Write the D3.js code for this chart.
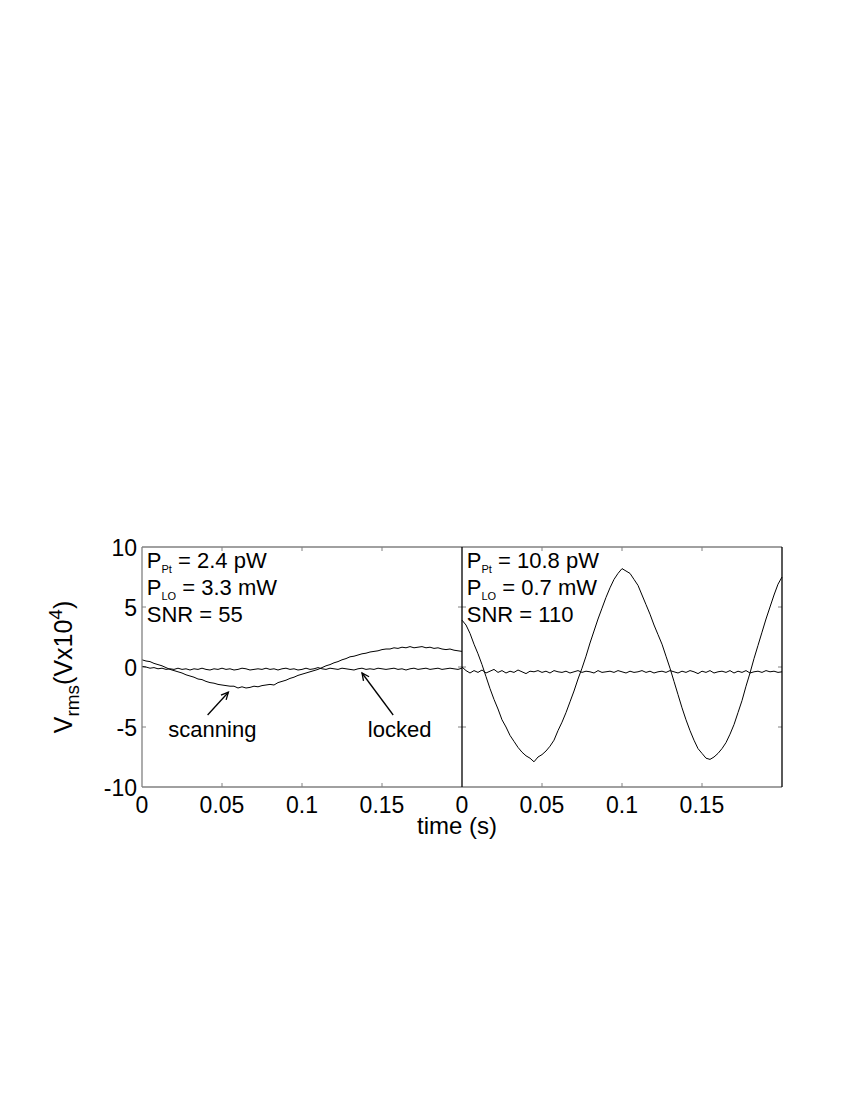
<!DOCTYPE html>
<html><head><meta charset="utf-8">
<script src="https://cdn.jsdelivr.net/npm/d3@7"></script>
<style>body{margin:0;background:#fff}svg{display:block}text{font-family:"Liberation Sans",Arial,sans-serif;fill:#000}</style>
</head><body>
<svg id="c" width="850" height="1100"></svg>
<script>
// ---- data ----
const timeDomain = [0, 0.2];
const vDomain = [-10, 10];
const nSamples = 81;
const scanLeft = [
 0.6,0.5,0.45,0.3,0.2,0.1,-0.05,-0.2,-0.3,-0.4,
 -0.5,-0.65,-0.75,-0.85,-1.0,-1.05,-1.2,-1.3,-1.35,-1.45,
 -1.5,-1.55,-1.6,-1.6,-1.75,-1.65,-1.75,-1.7,-1.6,-1.65,
 -1.55,-1.5,-1.45,-1.5,-1.3,-1.2,-1.1,-0.95,-0.85,-0.7,
 -0.6,-0.5,-0.4,-0.3,-0.2,-0.05,0.1,0.2,0.35,0.45,
 0.6,0.7,0.85,0.9,1.0,1.1,1.15,1.25,1.3,1.35,
 1.45,1.5,1.5,1.6,1.55,1.65,1.6,1.7,1.6,1.65,
 1.7,1.6,1.65,1.55,1.6,1.5,1.45,1.5,1.4,1.35,
 1.3];
const lockedLeft = [
 0.05,0.0,-0.1,-0.05,-0.15,-0.1,-0.2,-0.15,-0.2,-0.1,
 -0.2,-0.15,-0.25,-0.15,-0.2,-0.1,-0.2,-0.25,-0.15,-0.2,
 -0.1,-0.2,-0.15,-0.25,-0.2,-0.1,-0.15,-0.25,-0.2,-0.15,
 -0.2,-0.1,-0.2,-0.15,-0.25,-0.15,-0.1,-0.2,-0.15,-0.25,
 -0.2,-0.1,-0.2,-0.15,-0.05,-0.15,-0.2,-0.1,-0.15,-0.2,
 -0.1,-0.15,-0.2,-0.25,-0.15,-0.1,-0.2,-0.15,-0.2,-0.1,
 -0.15,-0.2,-0.15,-0.1,-0.2,-0.15,-0.25,-0.15,-0.1,-0.2,
 -0.15,-0.1,-0.2,-0.15,-0.1,-0.2,-0.15,-0.1,-0.15,-0.2,
 -0.1];
const scanRight = [
 3.9,3.5,2.8,1.9,1.1,0.2,-0.8,-1.8,-2.7,-3.5,
 -4.4,-5.0,-5.7,-6.2,-6.7,-7.1,-7.4,-7.6,-7.9,-7.5,
 -7.3,-7.0,-6.6,-6.1,-5.3,-4.6,-3.8,-2.9,-2.0,-1.0,
 -0.1,0.9,2.0,3.0,4.0,4.9,5.8,6.6,7.3,7.8,
 8.2,8.0,7.8,7.3,6.8,6.0,5.2,4.4,3.5,2.7,
 1.9,0.9,-0.1,-1.2,-2.3,-3.4,-4.4,-5.3,-6.1,-6.8,
 -7.2,-7.6,-7.7,-7.5,-7.2,-6.8,-6.3,-5.6,-4.8,-3.8,
 -2.8,-1.6,-0.5,0.7,1.8,2.9,4.0,5.0,6.0,6.9,
 7.5];
const lockedRight = [
 0.0,-0.3,-0.5,-0.3,-0.45,-0.25,-0.5,-0.35,-0.2,-0.45,
 -0.3,-0.5,-0.35,-0.45,-0.25,-0.4,-0.55,-0.35,-0.4,-0.3,
 -0.45,-0.35,-0.5,-0.3,-0.4,-0.45,-0.35,-0.5,-0.4,-0.3,
 -0.45,-0.35,-0.4,-0.5,-0.3,-0.45,-0.4,-0.35,-0.45,-0.3,
 -0.4,-0.5,-0.35,-0.45,-0.4,-0.3,-0.45,-0.35,-0.5,-0.4,
 -0.35,-0.45,-0.3,-0.4,-0.5,-0.35,-0.45,-0.3,-0.4,-0.55,
 -0.35,-0.45,-0.3,-0.5,-0.4,-0.35,-0.45,-0.3,-0.5,-0.35,
 -0.45,-0.3,-0.5,-0.4,-0.35,-0.45,-0.3,-0.4,-0.35,-0.45,
 -0.4];
const xTicks = [0.05, 0.1, 0.15];
const xTickLabels = ["0", "0.05", "0.1", "0.15"];
const xLabelValues = [0, 0.05, 0.1, 0.15];
const yTicks = [-10, -5, 0, 5, 10];
const yInnerTicks = [-5, 0, 5];
const leftNotes = [["P","Pt"," = 2.4 pW"],["P","LO"," = 3.3 mW"],["SNR = 55","",""]];
const rightNotes = [["P","Pt"," = 10.8 pW"],["P","LO"," = 0.7 mW"],["SNR = 110","",""]];
const noteY = [8.25, 6.0, 3.75];

// ---- layout ----
const svg = d3.select("#c");
const y = d3.scaleLinear().domain(vDomain).range([787, 547]);
const xL = d3.scaleLinear().domain(timeDomain).range([142, 462]);
const xR = d3.scaleLinear().domain(timeDomain).range([462, 782]);
const times = d3.range(nSamples).map(i => timeDomain[0] + (timeDomain[1]-timeDomain[0]) * i / (nSamples-1));
const grey = "#808080";

function panel(x, scan, locked, notes) {
  const g = svg.append("g");
  const [x0, x1] = x.range();
  const [yb, yt] = y.range();
  g.append("line").attr("x1", x0).attr("x2", x1).attr("y1", yt).attr("y2", yt).attr("stroke", grey).attr("stroke-width", 1.3);
  g.append("line").attr("x1", x0).attr("x2", x1).attr("y1", yb).attr("y2", yb).attr("stroke", grey).attr("stroke-width", 1.3);
  xTicks.forEach(t => {
    g.append("line").attr("x1", x(t)).attr("x2", x(t)).attr("y1", yt).attr("y2", yt+4).attr("stroke", grey);
    g.append("line").attr("x1", x(t)).attr("x2", x(t)).attr("y1", yb).attr("y2", yb-4).attr("stroke", grey);
  });
  yInnerTicks.forEach(v => {
    g.append("line").attr("x1", x1).attr("x2", x1-4).attr("y1", y(v)).attr("y2", y(v)).attr("stroke", grey);
    g.append("line").attr("x1", x0).attr("x2", x0+4).attr("y1", y(v)).attr("y2", y(v)).attr("stroke", grey);
  });
  xLabelValues.forEach((t, i) => {
    g.append("text").attr("x", x(t)).attr("y", 813).attr("text-anchor", "middle").attr("font-size", 23).text(xTickLabels[i]);
  });
  const line = d3.line().x((d, i) => x(times[i])).y(d => y(d));
  g.append("path").datum(scan).attr("d", line).attr("fill", "none").attr("stroke", "#000").attr("stroke-width", 1);
  g.append("path").datum(locked).attr("d", line).attr("fill", "none").attr("stroke", "#000").attr("stroke-width", 1);
  notes.forEach((n, i) => {
    const t = g.append("text").attr("x", x(0.003)).attr("y", y(noteY[i])).attr("font-size", 22);
    t.append("tspan").text(n[0]);
    if (n[1]) {
      t.append("tspan").attr("font-size", 11).attr("dy", 5).text(n[1]);
      t.append("tspan").attr("dy", -5).text(n[2]);
    }
  });
  return g;
}

panel(xL, scanLeft, lockedLeft, leftNotes);
panel(xR, scanRight, lockedRight, rightNotes);

svg.append("line").attr("x1", xL(0)).attr("x2", xL(0)).attr("y1", y(-10)).attr("y2", y(10)).attr("stroke", grey).attr("stroke-width", 1.3);
[xL(0.2), xR(0.2)].forEach(px => {
  svg.append("line").attr("x1", px).attr("x2", px).attr("y1", y(-10)).attr("y2", y(10)).attr("stroke", "#000").attr("stroke-width", 1.3);
});

yTicks.forEach(v => {
  svg.append("text").attr("x", 137).attr("y", y(v) + 9).attr("text-anchor", "end").attr("font-size", 23).text(v);
});

svg.append("text").attr("x", 457).attr("y", 834).attr("text-anchor", "middle").attr("font-size", 24).text("time (s)");
const yl = svg.append("text").attr("transform", `translate(72,${y(0)}) rotate(-90)`).attr("text-anchor", "middle").attr("font-size", 25);
yl.append("tspan").text("V");
yl.append("tspan").attr("font-size", 19).attr("dy", 7).text("rms");
yl.append("tspan").attr("dy", -7).text("(Vx10");
yl.append("tspan").attr("font-size", 19).attr("dy", -10).text("4");
yl.append("tspan").attr("dy", 10).text(")");

const annotations = [
  {label: "scanning", tx: 0.044, tv: -5.8, from: [0.041, -4.0], to: [0.054, -2.1]},
  {label: "locked", tx: 0.161, tv: -5.8, from: [0.157, -4.0], to: [0.1375, -0.5]}
];
annotations.forEach(a => {
  svg.append("text").attr("x", xL(a.tx)).attr("y", y(a.tv)).attr("text-anchor", "middle").attr("font-size", 22).text(a.label);
  const x1 = xL(a.from[0]), y1 = y(a.from[1]), x2 = xL(a.to[0]), y2 = y(a.to[1]);
  svg.append("line").attr("x1", x1).attr("y1", y1).attr("x2", x2).attr("y2", y2).attr("stroke", "#000").attr("stroke-width", 1.3);
  const ang = Math.atan2(y2 - y1, x2 - x1), L = 8, w = 0.45;
  const p1 = [x2 - L*Math.cos(ang - w), y2 - L*Math.sin(ang - w)];
  const p2 = [x2 - L*Math.cos(ang + w), y2 - L*Math.sin(ang + w)];
  svg.append("path").attr("d", `M${p1}L${x2},${y2}L${p2}`).attr("fill", "none").attr("stroke", "#000").attr("stroke-width", 1.3);
});
</script>
</body></html>
